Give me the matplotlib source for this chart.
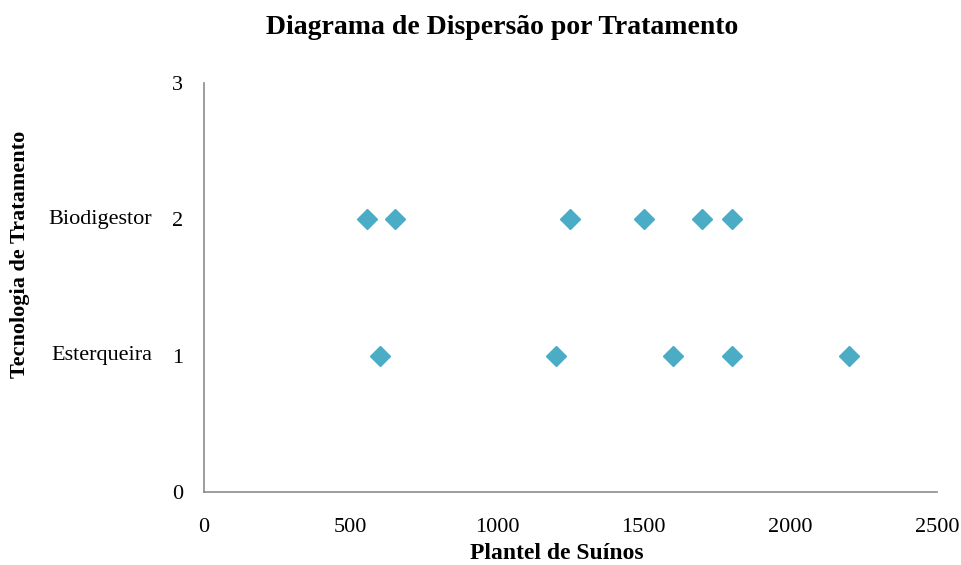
import matplotlib.pyplot as plt

# data
biodigestor_x = [555, 650, 1250, 1500, 1700, 1800]
biodigestor_y = [2, 2, 2, 2, 2, 2]
esterqueira_x = [600, 1200, 1600, 1800, 2200]
esterqueira_y = [1, 1, 1, 1, 1]
category_labels = ['Esterqueira', 'Biodigestor']
category_levels = [1, 2]

plt.rcParams['font.family'] = ['Liberation Serif', 'DejaVu Serif']

fig = plt.figure(figsize=(9.61, 5.65), dpi=100)
ax = fig.add_axes([0.2123, 0.1292, 0.7627, 0.7238])

color = '#4BACC6'
ax.plot(biodigestor_x, biodigestor_y, linestyle='none', marker='D', markersize=10,
        color=color, markeredgecolor=color)
ax.plot(esterqueira_x, esterqueira_y, linestyle='none', marker='D', markersize=10,
        color=color, markeredgecolor=color)

ax.set_xlim(0, 2500)
ax.set_ylim(0, 3)
ax.set_xticks([0, 500, 1000, 1500, 2000, 2500])
ax.set_yticks([0, 1, 2, 3])
ax.tick_params(length=0, labelsize=16)
ax.tick_params(axis='x', pad=19)
ax.tick_params(axis='y', pad=15)

for s in ['top', 'right']:
    ax.spines[s].set_visible(False)
for s in ['left', 'bottom']:
    ax.spines[s].set_color('#8c8c8c')
    ax.spines[s].set_linewidth(1.2)

# category names to the left of the y tick labels
for lab, lev in zip(category_labels, category_levels):
    ax.text(-0.071, lev, lab, transform=ax.get_yaxis_transform(),
            ha='right', va='center', fontsize=16)

ax.set_xlabel('Plantel de Suínos', fontsize=17, fontweight='bold')
ax.xaxis.set_label_coords(0.482, -0.125)
ax.set_ylabel('Tecnologia de Tratamento', fontsize=16, fontweight='bold')
ax.yaxis.set_label_coords(-0.237, 0.582)
fig.text(0.522, 0.952, 'Diagrama de Dispersão por Tratamento', fontsize=20,
         fontweight='bold', ha='center', va='center')

fig.savefig('out.png', dpi=100)
